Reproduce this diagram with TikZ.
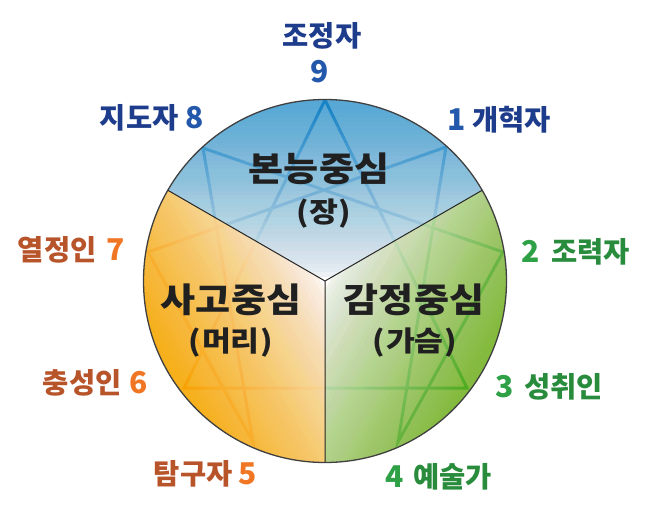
\documentclass[tikz,border=0pt]{standalone}
\usepackage{fontspec}
\newfontfamily\kr{Noto Sans CJK KR}
\definecolor{bluebg}{RGB}{88,168,214}
\definecolor{yelbg}{RGB}{246,176,28}
\definecolor{grnbg}{RGB}{132,186,62}
\definecolor{blueln}{RGB}{24,132,198}
\definecolor{yelln}{RGB}{248,162,6}
\definecolor{grnln}{RGB}{80,172,34}
\definecolor{navytx}{RGB}{30,60,140}
\definecolor{bluetx}{RGB}{36,88,170}
\definecolor{browntx}{RGB}{184,84,42}
\definecolor{orangetx}{RGB}{240,118,36}
\definecolor{greentx}{RGB}{40,140,60}
\definecolor{greendg}{RGB}{46,160,70}
\definecolor{centertx}{RGB}{32,32,32}
\newcommand\dg[2]{{\color{#1}\fontsize{30pt}{31pt}\selectfont #2}}
\newcommand\wide[1]{\scalebox{1.12}[1]{#1}}
\newcommand\whitefade[1]{%
  \foreach \k in {1,...,40}{%
    \pgfmathsetmacro\op{1-((\k-1)/\k)^0.85}%
    \begin{scope}[shift={(C)}, rotate=#1]
      \fill[white, fill opacity=\op] (-400,-400) rectangle ({\k*172/40},400);
    \end{scope}
  }}
\tikzset{
  lbl/.style={inner sep=0pt, font=\kr\bfseries\fontsize{28.5pt}{30pt}\selectfont},
  ctrbig/.style={inner sep=0pt, text=centertx, font=\kr\bfseries\fontsize{34pt}{36pt}\selectfont},
  ctrsmall/.style={inner sep=0pt, text=centertx, font=\kr\bfseries\fontsize{28pt}{30pt}\selectfont},
  starline/.style={line width=3pt, line join=miter},
  divider/.style={line width=1pt, draw=black!85},
}
\newcommand\starpath{(v9) -- (v3) -- (v6) -- cycle (v1) -- (v4) -- (v2) -- (v8) -- (v5) -- (v7) -- cycle}
\begin{document}
\begin{tikzpicture}[x=1pt,y=-1pt]
\useasboundingbox (0,0) rectangle (649,512);
\coordinate (C) at (325,281);
\coordinate (v9) at (325,100);
\coordinate (v1) at (446,147);
\coordinate (v2) at (503,252);
\coordinate (v3) at (467,388);
\coordinate (v4) at (398,442);
\coordinate (v5) at (253,442);
\coordinate (v6) at (184,388);
\coordinate (v7) at (148,252);
\coordinate (v8) at (203,148);
\coordinate (d30) at (482.2,190.25);
\coordinate (d150) at (167.8,190.25);
\coordinate (d270) at (325,462.5);
% top sector
\begin{scope}
  \clip (C) circle (181.5pt);
  \clip (C) -- (639.4,99.5) -- (700,-300) -- (-50,-300) -- (10.6,99.5) -- cycle;
  \fill[bluebg] (C) circle (181.5pt);
  \draw[starline, blueln] \starpath;
  \whitefade{90}
\end{scope}
% right sector
\begin{scope}
  \clip (C) circle (181.5pt);
  \clip (C) -- (639.4,99.5) -- (900,300) -- (700,900) -- (325,900) -- cycle;
  \fill[grnbg] (C) circle (181.5pt);
  \draw[starline, grnln] \starpath;
  \whitefade{-30}
\end{scope}
% left sector
\begin{scope}
  \clip (C) circle (181.5pt);
  \clip (C) -- (325,900) -- (-100,900) -- (-300,300) -- (10.6,99.5) -- cycle;
  \fill[yelbg] (C) circle (181.5pt);
  \draw[starline, yelln] \starpath;
  \whitefade{210}
\end{scope}
\draw[divider] (C) -- (d30) (C) -- (d150) (C) -- (d270);
\draw[line width=1.3pt, black!75] (C) circle (181.5pt);
% centre labels
\node[ctrbig] (instinct) at (319,169) {\wide{본능중심}};
\node[ctrsmall] (jang) at (324,214) {\wide{(\kern0.5pt장\kern0.5pt)}};
\node[ctrbig] (head) at (231,300) {\wide{사고중심}};
\node[ctrsmall] (meori) at (231,343) {\wide{(\kern1pt머리\kern1pt)}};
\node[ctrbig] (heart) at (414,300) {\wide{감정중심}};
\node[ctrsmall] (gaseum) at (415,343) {\wide{(\kern1pt가슴\kern1pt)}};
% outer labels
\node[lbl] (t9) at (322,36) {\color{navytx}조정자};
\node[lbl] (n9) at (320,72) {\dg{bluetx}{9}};
\node[lbl, anchor=east] (t8) at (204,118) {\color{navytx}지도자\hspace{7pt}\dg{bluetx}{8}};
\node[lbl, anchor=west] (t1) at (447,120) {\dg{bluetx}{1}\hspace{7pt}\color{navytx}개혁자};
\node[lbl, anchor=east] (t7) at (125,250) {\color{browntx}열정인\hspace{10pt}\dg{orangetx}{7}};
\node[lbl, anchor=west] (t2) at (521,252) {\dg{greendg}{2}\hspace{12pt}\color{greentx}조력자};
\node[lbl, anchor=east] (t6) at (148,383) {\color{browntx}충성인\hspace{8pt}\dg{orangetx}{6}};
\node[lbl, anchor=west] (t3) at (495,387) {\dg{greendg}{3}\hspace{11pt}\color{greentx}성취인};
\node[lbl, anchor=east] (t5) at (257,474) {\color{browntx}탐구자\hspace{6pt}\dg{orangetx}{5}};
\node[lbl, anchor=west] (t4) at (385,477) {\dg{greendg}{4}\hspace{10pt}\color{greentx}예술가};
\end{tikzpicture}
\end{document}
